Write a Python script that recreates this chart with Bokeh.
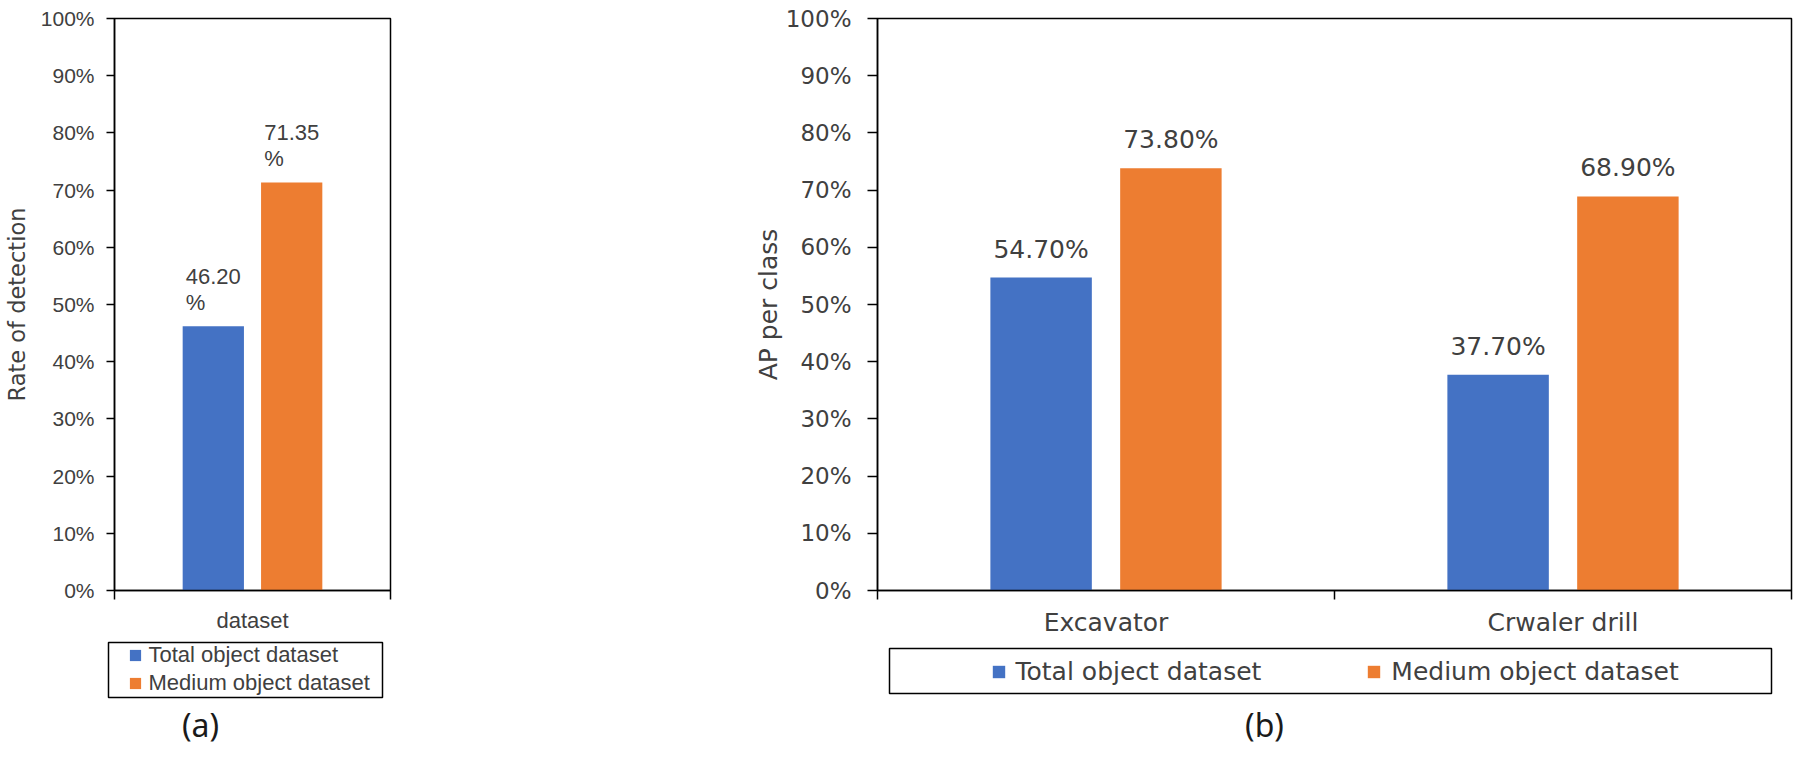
from bokeh.plotting import figure
from bokeh.models import (ColumnDataSource, Range1d, FixedTicker, LabelSet, Label,
                          Legend, LegendItem, BoxAnnotation, PrintfTickFormatter)
from bokeh.transform import dodge
from bokeh.layouts import row, column
from bokeh.core.properties import value
from bokeh.embed import file_html
from bokeh.resources import INLINE

# ---------------- data ----------------
series_names = ["Total object dataset", "Medium object dataset"]
series_colors = ["#4472C4", "#ED7D31"]

cats_a = ["dataset"]
total_a = [46.20]
medium_a = [71.35]

cats_b = ["Excavator", "Crwaler drill"]
total_b = [54.70, 37.70]
medium_b = [73.80, 68.90]

y_ticks = [0, 10, 20, 30, 40, 50, 60, 70, 80, 90, 100]

# ---------------- layout constants (px) ----------------
BORDER_TOP = 18
FRAME_H = 572
TOP_H = 632          # chart figures
BOT_H = 110          # legend/caption strip
TXT = "#404040"
OFF = 0.142
BAR_W = 0.222


def make_source(cats, total, medium, fmt):
    centers = [i + 0.5 for i in range(len(cats))]
    return ColumnDataSource(dict(
        x=centers, cat=cats, total=total, medium=medium,
        total_lbl=[fmt(v) for v in total], medium_lbl=[fmt(v) for v in medium]))


def style_common(p, n, cats, tick_font, tick_size, cat_font, cat_size, tick_out, tick_standoff):
    p.xgrid.visible = False
    p.ygrid.visible = False
    p.outline_line_color = "black"
    p.outline_line_width = 1.5
    p.background_fill_color = "white"
    p.border_fill_color = "white"

    ya = p.yaxis[0]
    ya.ticker = FixedTicker(ticks=y_ticks)
    ya.formatter = PrintfTickFormatter(format="%d%%")
    ya.major_tick_out = tick_out
    ya.major_tick_in = 0
    ya.minor_tick_line_color = None
    ya.major_tick_line_color = "black"
    ya.major_tick_line_width = 1.5
    ya.axis_line_color = "black"
    ya.axis_line_width = 1.5
    ya.major_label_standoff = tick_standoff
    ya.major_label_text_font = tick_font
    ya.major_label_text_font_size = tick_size
    ya.major_label_text_color = TXT
    ya.axis_label_text_font_style = "normal"
    ya.axis_label_text_color = TXT

    xa = p.xaxis[0]
    centers = [i + 0.5 for i in range(n)]
    bounds = list(range(n + 1))
    xa.ticker = FixedTicker(ticks=centers, minor_ticks=bounds)
    xa.major_label_overrides = {c: lab for c, lab in zip(centers, cats)}
    xa.major_tick_line_color = None
    xa.major_tick_out = 0
    xa.major_tick_in = 0
    xa.minor_tick_out = 9
    xa.minor_tick_in = 0
    xa.minor_tick_line_color = "black"
    xa.minor_tick_line_width = 1.5
    xa.axis_line_color = "black"
    xa.axis_line_width = 1.5
    xa.major_label_standoff = 8
    xa.major_label_text_font = cat_font
    xa.major_label_text_font_size = cat_size
    xa.major_label_text_color = TXT


def add_bars(p, src):
    for col, off, color in (("total", -OFF, series_colors[0]), ("medium", OFF, series_colors[1])):
        p.vbar(x=dodge("x", off, range=p.x_range), top=col, width=BAR_W, bottom=0,
               source=src, fill_color=color, line_color=None)


# ================= chart (a) =================
A_LEFT_BORDER = 104
A_FRAME_W = 276
A_W = 580

src_a = make_source(cats_a, total_a, medium_a, lambda v: f"{v:.2f}\n%")
pa = figure(frame_width=A_FRAME_W, frame_height=FRAME_H,
            min_border_left=A_LEFT_BORDER, min_border_right=A_W - A_LEFT_BORDER - A_FRAME_W,
            min_border_top=BORDER_TOP, min_border_bottom=TOP_H - BORDER_TOP - FRAME_H,
            x_range=Range1d(0, len(cats_a)), y_range=Range1d(0, 100),
            output_backend="svg", toolbar_location=None)
style_common(pa, len(cats_a), cats_a, "Liberation Sans", "21px",
             "Liberation Sans", "22px", 8, 12)
pa.yaxis[0].axis_label = "Rate of detection"
pa.yaxis[0].axis_label_text_font = "DejaVu Sans"
pa.yaxis[0].axis_label_text_font_size = "22.5px"
pa.yaxis[0].axis_label_standoff = 8

add_bars(pa, src_a)
for col, off in (("total_lbl", -OFF), ("medium_lbl", OFF)):
    pa.add_layout(LabelSet(x=dodge("x", off, range=pa.x_range), y=col.replace("_lbl", ""),
                           text=col, source=src_a, text_align="center", text_baseline="bottom",
                           y_offset=11, text_font=value("Liberation Sans"),
                           text_font_size=value("22px"), text_color=TXT, text_line_height=1.05))

# ================= chart (b) =================
B_LEFT_BORDER = 287
B_FRAME_W = 914
B_W = 1216
NB = len(cats_b)

src_b = make_source(cats_b, total_b, medium_b, lambda v: f"{v:.2f}%")
pb = figure(frame_width=B_FRAME_W, frame_height=FRAME_H,
            min_border_left=B_LEFT_BORDER, min_border_right=B_W - B_LEFT_BORDER - B_FRAME_W,
            min_border_top=BORDER_TOP, min_border_bottom=TOP_H - BORDER_TOP - FRAME_H,
            x_range=Range1d(0, NB), y_range=Range1d(0, 100),
            output_backend="svg", toolbar_location=None)
style_common(pb, NB, cats_b, "DejaVu Sans", "23px", "DejaVu Sans", "25px", 10, 16)
pb.yaxis[0].axis_label = "AP per class"
pb.yaxis[0].axis_label_text_font = "DejaVu Sans"
pb.yaxis[0].axis_label_text_font_size = "25px"
pb.yaxis[0].axis_label_standoff = 0

add_bars(pb, src_b)
for col, off in (("total_lbl", -OFF), ("medium_lbl", OFF)):
    pb.add_layout(LabelSet(x=dodge("x", off, range=pb.x_range), y=col.replace("_lbl", ""),
                           text=col, source=src_b, text_align="center", text_baseline="alphabetic",
                           y_offset=20, text_font=value("DejaVu Sans"),
                           text_font_size=value("25px"), text_color=TXT))

# ================= legend / caption strip =================
STRIP_W = A_W + B_W
pl = figure(width=STRIP_W, height=BOT_H, x_range=Range1d(0, STRIP_W), y_range=Range1d(0, BOT_H),
            min_border=0, x_axis_location=None, y_axis_location=None,
            output_backend="svg", toolbar_location=None)
pl.xgrid.visible = False
pl.ygrid.visible = False
pl.outline_line_color = None


def sx(page_x):
    return page_x


def sy(page_y):
    return 8 + TOP_H + BOT_H - page_y


def swatches(src):
    rs = []
    for col, color in (("total", series_colors[0]), ("medium", series_colors[1])):
        rs.append(pl.scatter(x="x", y=col, source=src, size=0, marker="square",
                             fill_color=color, line_color=None))
    return rs


sw_a = swatches(src_a)
sw_b = swatches(src_b)

pl.add_layout(BoxAnnotation(left=sx(108), right=sx(382), top=sy(643), bottom=sy(698),
                            fill_alpha=0, line_color="black", line_alpha=1.0, line_width=1.5))
pl.add_layout(BoxAnnotation(left=sx(889), right=sx(1771), top=sy(649), bottom=sy(694),
                            fill_alpha=0, line_color="black", line_alpha=1.0, line_width=1.5))

leg_a = Legend(items=[LegendItem(label=series_names[i], renderers=[sw_a[i]]) for i in range(2)],
               location=(120.5, sy(697.5)), orientation="vertical", padding=0, margin=0,
               spacing=-2, glyph_width=28, glyph_height=28, label_standoff=-2,
               border_line_color=None, background_fill_alpha=0,
               label_text_font="Liberation Sans", label_text_font_size="22px",
               label_text_color=TXT)
pl.add_layout(leg_a)
leg_b = Legend(items=[LegendItem(label=series_names[i], renderers=[sw_b[i]]) for i in range(2)],
               location=(982.5, sy(688)), orientation="horizontal", padding=0, margin=0,
               spacing=97, glyph_width=31, glyph_height=31, label_standoff=2,
               border_line_color=None, background_fill_alpha=0,
               label_text_font="DejaVu Sans", label_text_font_size="25px",
               label_text_color=TXT)
pl.add_layout(leg_b)

pl.add_layout(Label(x=sx(200), y=sy(725), text="(a)", text_align="center",
                    text_baseline="alphabetic", text_font="Noto Sans",
                    text_font_size="32px", text_color="#1a1a1a"))
pl.add_layout(Label(x=sx(1264), y=sy(725), text="(b)", text_align="center",
                    text_baseline="alphabetic", text_font="Noto Sans",
                    text_font_size="32px", text_color="#1a1a1a"))

layout = column(row(pa, pb, spacing=0), pl, spacing=0)
open("out.html", "w").write(file_html(layout, INLINE))
